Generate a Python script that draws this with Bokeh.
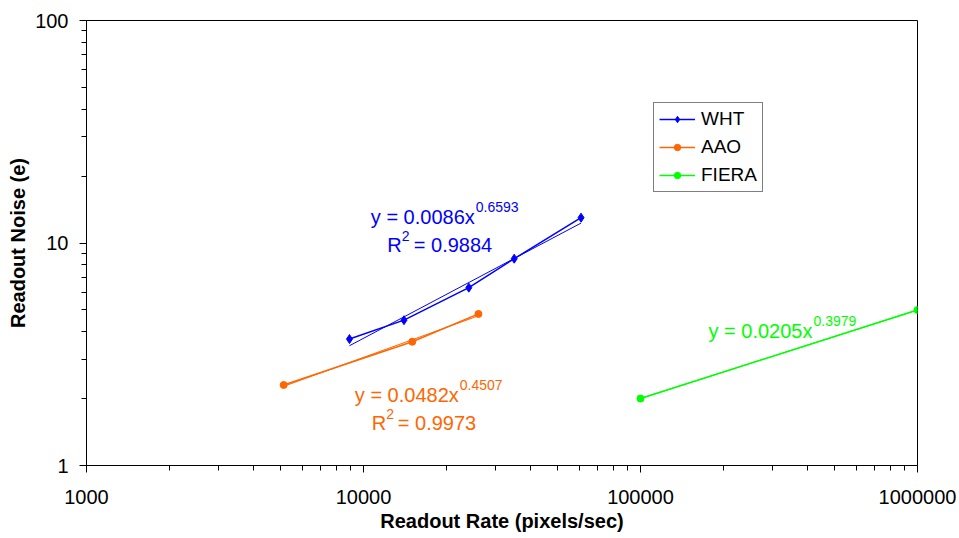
from bokeh.plotting import figure
from bokeh.models import (FixedTicker, PrintfTickFormatter, Legend, LegendItem, Label)
from bokeh.embed import file_html
from bokeh.resources import INLINE

# ---- data ----
wht_rate = [8900, 14000, 24000, 35000, 61000]
wht_noise = [3.7, 4.5, 6.3, 8.5, 13.0]
aao_rate = [5150, 15000, 26000]
aao_noise = [2.3, 3.6, 4.8]
fiera_rate = [100000, 1000000]
fiera_noise = [2.0, 5.0]

series_names = ["WHT", "AAO", "FIERA"]
# power-law trendline coefficients y = a * x^b (as printed on the chart)
trend_a = [0.0086, 0.0482, 0.0205]
trend_b = [0.6593, 0.4507, 0.3979]
trend_r2 = ["0.9884", "0.9973", None]

x_major = [1000, 10000, 100000, 1000000]
y_major = [1, 10, 100]

colors = ["#0000FF", "#FF6600", "#00FF00"]
FONT = "Liberation Sans"

p = figure(width=958, height=537, x_axis_type="log", y_axis_type="log",
           x_range=(1000, 1000000), y_range=(1, 100),
           output_backend="svg", toolbar_location=None,
           min_border_left=86, min_border_right=41, min_border_top=20,
           min_border_bottom=72)
p.xgrid.visible = False
p.ygrid.visible = False
p.outline_line_color = "black"
p.outline_line_width = 1
p.background_fill_color = "white"
p.border_fill_color = "white"

x_minor = [m * d for d in x_major[:-1] for m in range(2, 10)]
y_minor = [m * d for d in y_major[:-1] for m in range(2, 10)]
p.xaxis.ticker = FixedTicker(ticks=x_major, minor_ticks=x_minor)
p.yaxis.ticker = FixedTicker(ticks=y_major, minor_ticks=y_minor)
p.xaxis.formatter = PrintfTickFormatter(format="%d")
p.yaxis.formatter = PrintfTickFormatter(format="%d")

for ax in (p.xaxis, p.yaxis):
    ax.major_tick_in = 0
    ax.major_tick_out = 7
    ax.minor_tick_in = 0
    ax.minor_tick_out = 5
    ax.axis_line_color = "black"
    ax.major_tick_line_color = "black"
    ax.minor_tick_line_color = "black"
    ax.major_label_text_font = FONT
    ax.major_label_text_font_size = "20px"
    ax.major_label_text_color = "black"
    ax.axis_label_text_font = FONT
    ax.axis_label_text_font_size = "20px"
    ax.axis_label_text_font_style = "bold"
    ax.axis_label_text_color = "black"

p.xaxis.axis_label = "Readout Rate (pixels/sec)"
p.yaxis.axis_label = "Readout Noise (e)"
p.xaxis.major_label_standoff = 17
p.xaxis.axis_label_standoff = 3
p.yaxis.major_label_standoff = 11
p.yaxis.axis_label_standoff = 3

rates = [wht_rate, aao_rate, fiera_rate]
noises = [wht_noise, aao_noise, fiera_noise]
markers = ["diamond", "circle", "circle"]
msizes = [9, 7, 7]

items = []
for name, xs, ys, c, mk, ms, a, b in zip(series_names, rates, noises, colors,
                                         markers, msizes, trend_a, trend_b):
    # fitted power-law trendline across the series' x range
    tx = [min(xs), max(xs)]
    ty = [a * v ** b for v in tx]
    p.line(tx, ty, line_color=c, line_width=1)
    lr = p.line(xs, ys, line_color=c, line_width=1.5)
    sr = p.scatter(xs, ys, marker=mk, size=ms, fill_color=c, line_color=c)
    items.append(LegendItem(label=name, renderers=[lr, sr]))

legend = Legend(items=items, location=(567, 273))
legend.label_text_font = FONT
legend.label_text_font_size = "19px"
legend.label_text_color = "black"
legend.border_line_color = "black"
legend.border_line_width = 1
legend.background_fill_color = "white"
legend.background_fill_alpha = 1
legend.padding = 5
legend.spacing = 6
legend.glyph_height = 16
legend.label_height = 16
legend.glyph_width = 36
legend.label_standoff = 6
legend.margin = 0
p.add_layout(legend, "center")


def lab(x, y, text, color, size="20px", align="left"):
    p.add_layout(Label(x=x, y=y, text=text, text_color=color,
                       text_font=FONT, text_font_size=size,
                       text_align=align, text_baseline="alphabetic"))


def coef(v):
    return f"{v:.4f}"

# WHT trendline equation
lab(25220, 13.05, f"y = {coef(trend_a[0])}x", colors[0], align="right")
lab(25430, 14.47, coef(trend_b[0]), colors[0], size="14px")
lab(13750, 9.77, "R", colors[0], align="right")
lab(13750, 10.72, "2", colors[0], size="14px")
lab(15190, 9.77, f"= {trend_r2[0]}", colors[0])

# AAO trendline equation
lab(22080, 2.072, f"y = {coef(trend_a[1])}x", colors[1], align="right")
lab(22270, 2.298, coef(trend_b[1]), colors[1], size="14px")
lab(12070, 1.551, "R", colors[1], align="right")
lab(12070, 1.703, "2", colors[1], size="14px")
lab(13300, 1.551, f"= {trend_r2[1]}", colors[1])

# FIERA trendline equation
lab(417700, 4.017, f"y = {coef(trend_a[2])}x", colors[2], align="right")
lab(421200, 4.454, coef(trend_b[2]), colors[2], size="14px")

open("out.html", "w").write(file_html(p, INLINE))
